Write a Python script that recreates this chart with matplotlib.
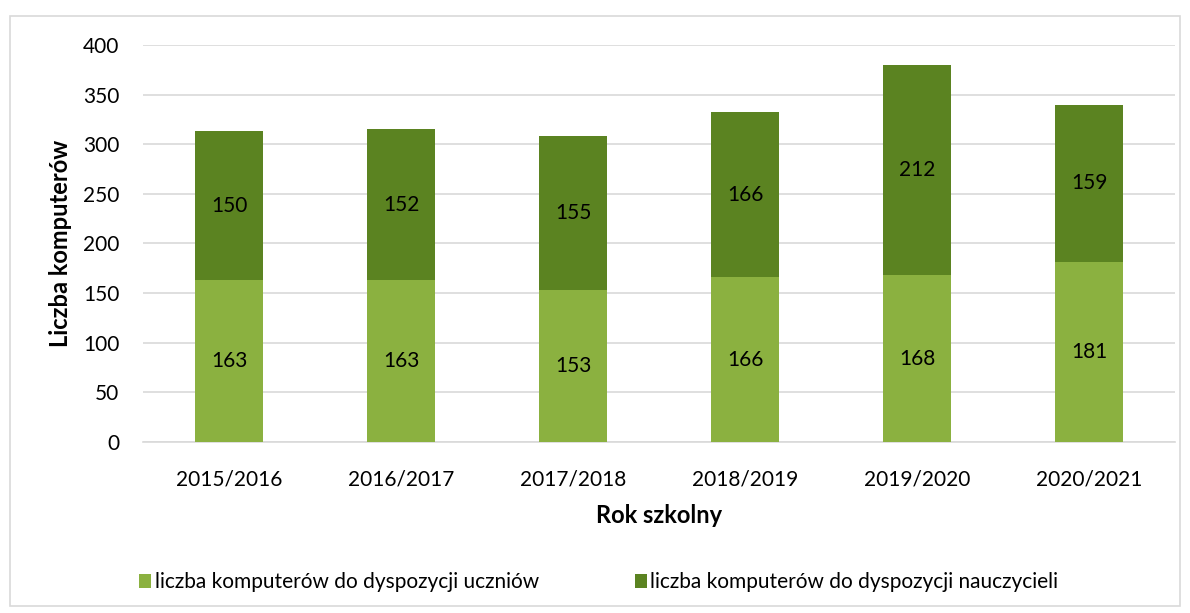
import matplotlib
matplotlib.use("Agg")
from matplotlib import pyplot as plt
from matplotlib.patches import Rectangle

#Data
years = ['2015/2016', '2016/2017', '2017/2018', '2018/2019', '2019/2020', '2020/2021']
uczniowie = [163, 163, 153, 166, 168, 181]
nauczyciele = [150, 152, 155, 166, 212, 159]

light_green = '#8BB140'
dark_green = '#5B8321'

plt.rcParams['font.family'] = ['Lato', 'DejaVu Sans']

fig = plt.figure(dpi=100, figsize=(11.9, 6.13))
ax = fig.add_axes([0.1202, 0.279, 0.8672, 0.6476])

x = range(len(years))
b1 = ax.bar(x, uczniowie, width=0.395, color=light_green, zorder=3,
            label='liczba komputerów do dyspozycji uczniów')
b2 = ax.bar(x, nauczyciele, width=0.395, bottom=uczniowie, color=dark_green, zorder=3,
            label='liczba komputerów do dyspozycji nauczycieli')

#Segment labels
for i in x:
    ax.text(i, uczniowie[i] / 2, str(uczniowie[i]), ha='center', va='center', fontsize=15)
    ax.text(i, uczniowie[i] + nauczyciele[i] / 2, str(nauczyciele[i]),
            ha='center', va='center', fontsize=15)

#Format graphic
ax.set_xlim(-0.5, len(years) - 0.5)
ax.set_ylim(0, 400)
ax.set_yticks(range(0, 401, 50))
ax.set_xticks(list(x))
ax.set_xticklabels(years)
ax.grid(axis='y', color='#D9D9D9', linewidth=1.2, zorder=0)
for s in ['top', 'right', 'left']:
    ax.spines[s].set_visible(False)
ax.spines['bottom'].set_color('#D9D9D9')
ax.spines['bottom'].set_linewidth(1.2)
ax.tick_params(axis='both', length=0, labelsize=15, pad=17)
ax.tick_params(axis='x', pad=20)

ax.set_ylabel('Liczba komputerów', fontsize=17, fontweight='bold', labelpad=8)
ax.set_xlabel('Rok szkolny', fontsize=17, fontweight='bold', labelpad=10)

fig.legend(handles=[b1, b2], loc='center', bbox_to_anchor=(0.503, 0.05), ncol=2,
           frameon=False, fontsize=15, handlelength=0.6, handleheight=0.6,
           handletextpad=0.15, columnspacing=4.6)

#Outer border
fig.patches.append(Rectangle((0.008, 0.012), 0.984, 0.962, transform=fig.transFigure,
                             fill=False, edgecolor='#D9D9D9', linewidth=1.2))

fig.savefig('out.png', dpi=100)
